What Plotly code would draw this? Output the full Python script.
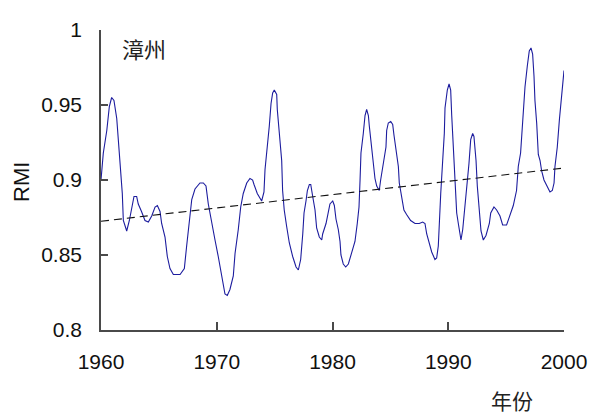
import plotly.graph_objects as go

# RMI series for Zhangzhou (smoothed), year vs value
years = [
    1960.0, 1960.2, 1960.5, 1960.72, 1960.92, 1961.12, 1961.36, 1961.58, 1961.84, 1961.93,
    1962.22, 1962.45, 1962.65, 1962.85, 1963.08, 1963.22, 1963.5, 1963.8, 1964.09, 1964.38,
    1964.67, 1964.87, 1965.1, 1965.24, 1965.53, 1965.73, 1965.96, 1966.25, 1966.83, 1967.2,
    1967.4, 1967.63, 1967.84, 1968.12, 1968.55, 1968.84, 1969.07, 1969.27, 1969.56, 1969.85,
    1970.13, 1970.43, 1970.71, 1970.91, 1971.14, 1971.43, 1971.58, 1971.86, 1972.07, 1972.29,
    1972.59, 1972.87, 1973.1, 1973.22, 1973.5, 1973.88, 1974.08, 1974.17, 1974.37, 1974.54,
    1974.69, 1974.83, 1974.97, 1975.18, 1975.23, 1975.4, 1975.61, 1975.69, 1975.83, 1976.04,
    1976.27, 1976.56, 1976.85, 1977.05, 1977.25, 1977.43, 1977.54, 1977.71, 1977.83, 1978.0,
    1978.12, 1978.29, 1978.49, 1978.63, 1978.86, 1979.07, 1979.15, 1979.44, 1979.64, 1979.78,
    1980.02, 1980.16, 1980.3, 1980.5, 1980.65, 1980.73, 1980.93, 1981.14, 1981.37, 1981.66,
    1981.94, 1982.14, 1982.29, 1982.38, 1982.46, 1982.66, 1982.81, 1982.95, 1983.1, 1983.18,
    1983.39, 1983.58, 1983.67, 1983.82, 1984.04, 1984.16, 1984.39, 1984.62, 1984.68, 1984.82,
    1985.03, 1985.2, 1985.31, 1985.48, 1985.69, 1985.77, 1985.97, 1986.17, 1986.4, 1986.75,
    1987.13, 1987.5, 1987.79, 1987.99, 1988.14, 1988.36, 1988.57, 1988.85, 1989.0, 1989.14,
    1989.22, 1989.35, 1989.52, 1989.66, 1989.72, 1989.92, 1990.07, 1990.21, 1990.3, 1990.44,
    1990.58, 1990.73, 1990.87, 1991.02, 1991.1, 1991.25, 1991.39, 1991.59, 1991.79, 1991.94,
    1992.11, 1992.22, 1992.4, 1992.51, 1992.68, 1992.83, 1993.03, 1993.26, 1993.55, 1993.67,
    1993.95, 1994.18, 1994.47, 1994.7, 1995.04, 1995.33, 1995.62, 1995.9, 1996.05, 1996.25,
    1996.43, 1996.63, 1996.83, 1997.0, 1997.15, 1997.29, 1997.41, 1997.49, 1997.64, 1997.78,
    1997.93, 1998.07, 1998.27, 1998.5, 1998.79, 1998.99, 1999.14, 1999.22, 1999.42, 1999.6,
    1999.8, 2000.0,
]
rmi = [
    0.900, 0.918, 0.933, 0.949, 0.955, 0.953, 0.941, 0.918, 0.891, 0.873,
    0.866, 0.873, 0.882, 0.889, 0.889, 0.884, 0.879, 0.873, 0.872, 0.876,
    0.882, 0.883, 0.879, 0.871, 0.862, 0.849, 0.841, 0.837, 0.837, 0.841,
    0.856, 0.873, 0.887, 0.894, 0.898, 0.898, 0.896, 0.884, 0.871, 0.860,
    0.849, 0.836, 0.824, 0.823, 0.827, 0.836, 0.851, 0.867, 0.882, 0.891,
    0.898, 0.901, 0.900, 0.897, 0.891, 0.886, 0.892, 0.907, 0.922, 0.936,
    0.951, 0.958, 0.960, 0.957, 0.947, 0.933, 0.913, 0.893, 0.880, 0.869,
    0.858, 0.849, 0.842, 0.840, 0.847, 0.864, 0.878, 0.886, 0.893, 0.897,
    0.897, 0.889, 0.880, 0.868, 0.862, 0.860, 0.864, 0.871, 0.879, 0.884,
    0.886, 0.883, 0.874, 0.867, 0.859, 0.850, 0.844, 0.842, 0.844, 0.851,
    0.859, 0.871, 0.882, 0.900, 0.918, 0.931, 0.943, 0.947, 0.943, 0.936,
    0.922, 0.911, 0.901, 0.896, 0.893, 0.900, 0.911, 0.922, 0.933, 0.938,
    0.939, 0.937, 0.930, 0.920, 0.909, 0.898, 0.889, 0.880, 0.877, 0.873,
    0.871, 0.871, 0.872, 0.871, 0.864, 0.858, 0.852, 0.847, 0.848, 0.856,
    0.873, 0.891, 0.913, 0.931, 0.948, 0.960, 0.964, 0.960, 0.943, 0.922,
    0.900, 0.878, 0.871, 0.862, 0.860, 0.867, 0.878, 0.896, 0.911, 0.927,
    0.931, 0.929, 0.913, 0.896, 0.880, 0.866, 0.860, 0.863, 0.871, 0.878,
    0.882, 0.880, 0.876, 0.870, 0.870, 0.877, 0.883, 0.893, 0.909, 0.918,
    0.940, 0.962, 0.976, 0.986, 0.988, 0.984, 0.969, 0.953, 0.938, 0.917,
    0.913, 0.906, 0.900, 0.896, 0.892, 0.893, 0.898, 0.909, 0.922, 0.940,
    0.958, 0.973,
]

# Linear trend end points
trend_years = [1960, 2000]
trend_rmi = [0.8725, 0.908]

x_ticks = [1960, 1970, 1980, 1990, 2000]
y_ticks = [0.8, 0.85, 0.9, 0.95, 1.0]
y_tick_text = ["0.8", "0.85", "0.9", "0.95", "1"]

axis_color = "#4a4a4a"
tick_font = dict(family="Liberation Sans, Arial, sans-serif", size=21, color="#111111")
cjk_font = dict(family="Noto Sans CJK SC, sans-serif", size=22, color="#222222")

fig = go.Figure()
fig.add_trace(go.Scatter(
    x=years, y=rmi, mode="lines",
    line=dict(color="#1c1c9e", width=1.1),
    showlegend=False, hoverinfo="skip",
))
fig.add_trace(go.Scatter(
    x=trend_years, y=trend_rmi, mode="lines",
    line=dict(color="#111111", width=1.1, dash="8px,5px"),
    showlegend=False, hoverinfo="skip",
))

fig.update_layout(
    width=594, height=419,
    margin=dict(l=101, r=30, t=30, b=89),
    paper_bgcolor="white", plot_bgcolor="white",
    xaxis=dict(
        range=[1960, 2000], tickvals=x_ticks, ticktext=[str(v) for v in x_ticks],
        showgrid=False, zeroline=False, automargin=False,
        showline=True, linecolor=axis_color, linewidth=1.5,
        ticks="inside", ticklen=8, tickwidth=1.5, tickcolor=axis_color,
        tickfont=tick_font, ticklabelstandoff=12,
    ),
    yaxis=dict(
        range=[0.8, 1.0], tickvals=y_ticks, ticktext=y_tick_text,
        showgrid=False, zeroline=False, automargin=False,
        showline=True, linecolor=axis_color, linewidth=1.5,
        ticks="inside", ticklen=7, tickwidth=1.5, tickcolor=axis_color,
        tickfont=tick_font, ticklabelstandoff=13,
    ),
    annotations=[
        dict(text="漳州", xref="paper", yref="paper", x=0.093, y=0.94,
             xanchor="center", yanchor="middle", showarrow=False, font=cjk_font),
        dict(text="年份", xref="paper", yref="paper", x=0.888, y=-0.235,
             xanchor="center", yanchor="middle", showarrow=False,
             font=dict(family="Noto Sans CJK SC, sans-serif", size=21, color="#222222")),
        dict(text="RMI", xref="paper", yref="paper", x=-0.173, y=0.493,
             xanchor="center", yanchor="middle", showarrow=False, textangle=-90,
             font=dict(family="Liberation Sans, Arial, sans-serif", size=22, color="#111111")),
    ],
)

fig.write_html("out.html")
